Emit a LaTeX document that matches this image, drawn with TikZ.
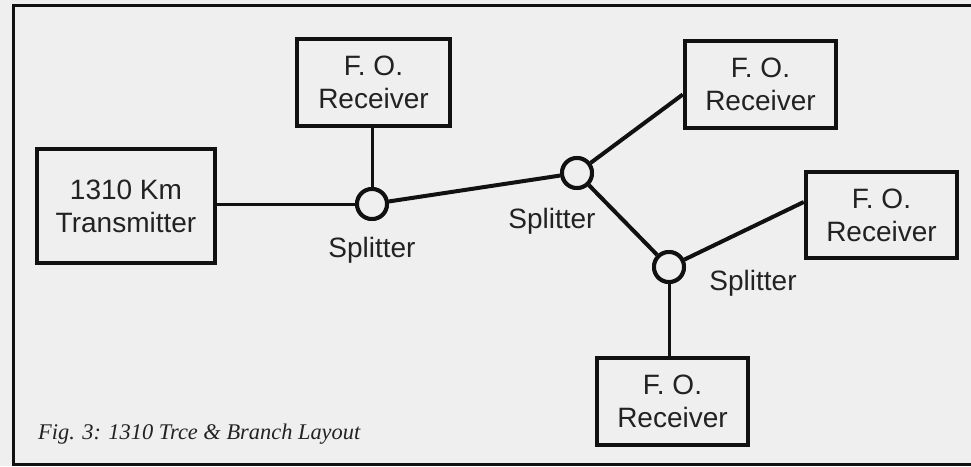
\documentclass[tikz,border=0pt]{standalone}
\usepackage{fontspec}
\setmainfont{Liberation Sans}
\newfontfamily\capfont{Liberation Serif}
\usetikzlibrary{calc}
\definecolor{paper}{HTML}{EFEFEF}
\definecolor{ink}{HTML}{111111}
\definecolor{txt}{HTML}{222222}
\tikzset{
  box/.style={draw=ink, line width=4.5pt, fill=paper, inner sep=0pt, align=center,
    text=txt, font=\fontsize{28}{33}\selectfont},
  splitter/.style={circle, draw=ink, line width=4pt, fill=paper, minimum size=30pt, inner sep=0pt},
  lbl/.style={text=txt, font=\fontsize{28}{33}\selectfont, inner sep=0pt},
  thinlink/.style={draw=ink, line width=3pt},
  thicklink/.style={draw=ink, line width=4pt},
  frame/.style={draw=ink, line width=3.5pt},
}
\begin{document}
\begin{tikzpicture}[x=1pt, y=-1pt]
\useasboundingbox (0,0) rectangle (971,466);
\clip (0,0) rectangle (971,466);
\fill[paper] (0,0) rectangle (971,466);
\draw[frame] (13.5,5.5) rectangle (980,464.5);

% splitters
\node[splitter] (S1) at (372,204) {};
\node[splitter] (S2) at (577,173) {};
\node[splitter] (S3) at (669,267) {};

% boxes
\node[box, minimum width=178pt, minimum height=114pt] (T) at (126,206) {1310 Km\\Transmitter};
\node[box, minimum width=153pt, minimum height=87pt] (R1) at (373.5,82.5) {F. O.\\Receiver};
\node[box, minimum width=151pt, minimum height=87pt] (R2) at (760.5,84.5) {F. O.\\Receiver};
\node[box, minimum width=151pt, minimum height=86pt] (R3) at (881.5,215) {F. O.\\Receiver};
\node[box, minimum width=151pt, minimum height=87pt] (R4) at (672.5,401.5) {F. O.\\Receiver};

% connectors
\path[thinlink] (S1.west) -- (S1.west -| T.east);
\path[thinlink] (S1.north) -- (S1.north |- R1.south);
\path[thicklink] (S1) -- (S2);
\path[thicklink] (S2) -- ([yshift=-10pt]R2.west);
\path[thicklink] (S2) -- (S3);
\path[thicklink] (S3) -- ([yshift=13pt]R3.west);
\path[thinlink] (S3.south) -- (S3.south |- R4.north);

% redraw splitters over connector ends
\node[splitter] at (S1) {};
\node[splitter] at (S2) {};
\node[splitter] at (S3) {};

% labels
\node[lbl] (L1) at (372,250) {Splitter};
\node[lbl] (L2) at (552,221) {Splitter};
\node[lbl] (L3) at (753,283) {Splitter};

% caption
\node[anchor=base west, inner sep=0pt, text=txt, font=\capfont\itshape\fontsize{22.4}{27}\selectfont] (cap) at (38,439) {Fig. 3: 1310 Trce \& Branch Layout};
\end{tikzpicture}
\end{document}
